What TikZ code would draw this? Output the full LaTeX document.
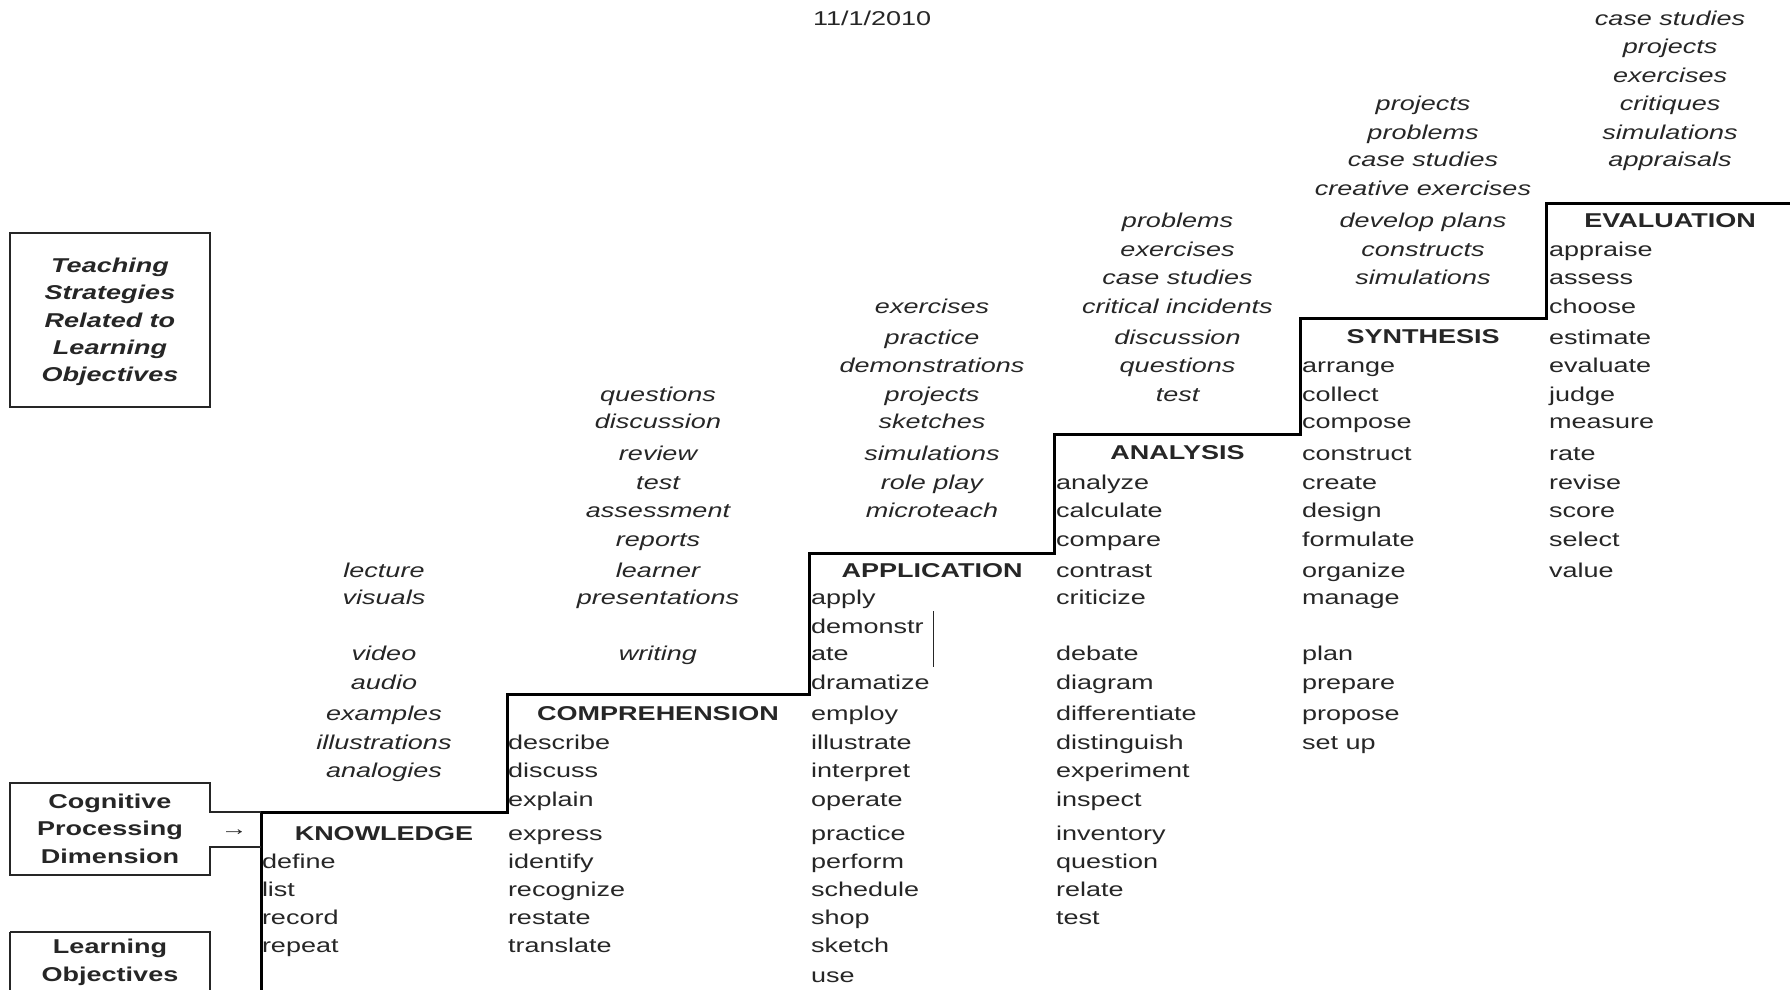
\documentclass[tikz,border=0pt]{standalone}
\usepackage{fontspec}
\setmainfont{Liberation Sans}[FakeStretch=1.35]
\begin{document}
\begin{tikzpicture}[x=1pt,y=-1pt,
  every node/.style={inner sep=0pt, outer sep=0pt, text=black!85},
  strat/.style={font=\fontsize{20}{24}\selectfont\itshape, anchor=mid},
  verb/.style={font=\fontsize{20}{24}\selectfont, anchor=mid west},
  head/.style={font=\fontsize{20}{24}\selectfont\bfseries, anchor=base},
  stair/.style={line width=3pt, line join=miter, black},
  frame/.style={line width=1.3pt, black!85},
  thin/.style={line width=1pt, black!85}]
\useasboundingbox (0,0) rectangle (1790,989);
\clip (0,0) rectangle (1790,989);
% date
\node[font=\fontsize{20}{24}\selectfont, anchor=base west] (date) at (813,25) {11/1/2010};
% left boxes
\node[font=\fontsize{20}{27.4}\selectfont\bfseries\itshape, align=center] (tsbox) at (110,322)
  {Teaching\\Strategies\\Related to\\Learning\\Objectives};
\draw[frame] (10,233) rectangle (210,407);
\node[font=\fontsize{20}{27.4}\selectfont\bfseries, align=center] (cpd) at (110,828.5)
  {Cognitive\\Processing\\Dimension};
\node[font=\fontsize{20}{27.4}\selectfont\bfseries, align=center] (lo) at (110,962.5)
  {Learning\\Objectives};
\draw[frame] (10,932) -- (10,1000) (10,932) -- (210,932) -- (210,1000);
\node[font=\fontsize{20}{24}\selectfont] (arr) at (234,833) {→};
% staircase
\coordinate (s0) at (261,1000);
\coordinate (s1) at (261,812);
\coordinate (s2) at (507,812);
\coordinate (s3) at (507,694);
\coordinate (s4) at (809,694);
\coordinate (s5) at (809,553);
\coordinate (s6) at (1054,553);
\coordinate (s7) at (1054,434);
\coordinate (s8) at (1300,434);
\coordinate (s9) at (1300,318);
\coordinate (s10) at (1546,318);
\coordinate (s11) at (1546,203);
\coordinate (s12) at (1800,203);
\draw[stair] (s0) -- (s1) -- (s2) -- (s3) -- (s4) -- (s5) -- (s6) -- (s7) -- (s8) -- (s9) -- (s10) -- (s11) -- (s12);
\coordinate (cb) at (261,847);
\draw[frame] (s1) -- (210,812) -- (210,783) -- (10,783) -- (10,875) -- (210,875) -- (210,847) -- (cb);
% headers
\node[head] (hK) at (384,840) {KNOWLEDGE};
\node[head] (hC) at (658,720) {COMPREHENSION};
\node[head] (hA) at (932,577) {APPLICATION};
\node[head] (hAn) at (1177.5,459) {ANALYSIS};
\node[head] (hS) at (1423,343) {SYNTHESIS};
\node[head] (hE) at (1670,227) {EVALUATION};
% strategies
\foreach \t/\y [count=\i] in {lecture/575, visuals/602, video/658, audio/687, examples/718, illustrations/747, analogies/775}
  \node[strat] (kS\i) at (384,\y) {\t};
\foreach \t/\y [count=\i] in {questions/399, discussion/426, review/458, test/487, assessment/515, reports/544, learner/575, presentations/602, writing/658}
  \node[strat] (cS\i) at (658,\y) {\t};
\foreach \t/\y [count=\i] in {exercises/311, practice/342, demonstrations/370, projects/399, sketches/426, simulations/458, role play/487, microteach/515}
  \node[strat] (aS\i) at (932,\y) {\t};
\foreach \t/\y [count=\i] in {problems/225, exercises/254, case studies/282, critical incidents/311, discussion/342, questions/370, test/399}
  \node[strat] (nS\i) at (1177.5,\y) {\t};
\foreach \t/\y [count=\i] in {projects/108, problems/137, case studies/164, creative exercises/193, develop plans/225, constructs/254, simulations/282}
  \node[strat] (sS\i) at (1423,\y) {\t};
\foreach \t/\y [count=\i] in {case studies/23, projects/51, exercises/80, critiques/108, simulations/137, appraisals/164}
  \node[strat] (eS\i) at (1670,\y) {\t};
% verbs
\foreach \t/\y [count=\i] in {define/866, list/894, record/922, repeat/950}
  \node[verb] (kV\i) at (262,\y) {\t};
\foreach \t/\y [count=\i] in {describe/747, discuss/775, explain/804, express/838, identify/866, recognize/894, restate/922, translate/950}
  \node[verb] (cV\i) at (508,\y) {\t};
\foreach \t/\y [count=\i] in {apply/602, demonstr/631, ate/658, dramatize/687, employ/718, illustrate/747, interpret/775, operate/804, practice/838, perform/866, schedule/894, shop/922, sketch/950, use/980}
  \node[verb] (aV\i) at (811,\y) {\t};
\foreach \t/\y [count=\i] in {analyze/487, calculate/515, compare/544, contrast/575, criticize/602, debate/658, diagram/687, differentiate/718, distinguish/747, experiment/775, inspect/804, inventory/838, question/866, relate/894, test/922}
  \node[verb] (nV\i) at (1056,\y) {\t};
\foreach \t/\y [count=\i] in {arrange/370, collect/399, compose/426, construct/458, create/487, design/515, formulate/544, organize/575, manage/602, plan/658, prepare/687, propose/718, set up/747}
  \node[verb] (sV\i) at (1302,\y) {\t};
\foreach \t/\y [count=\i] in {appraise/254, assess/282, choose/311, estimate/342, evaluate/370, judge/399, measure/426, rate/458, revise/487, score/515, select/544, value/575}
  \node[verb] (eV\i) at (1549,\y) {\t};
% small bar beside demonstr-ate
\coordinate (bar1) at (933,611);
\coordinate (bar2) at (933,667);
\draw[thin] (bar1) -- (bar2);
\end{tikzpicture}
\end{document}
